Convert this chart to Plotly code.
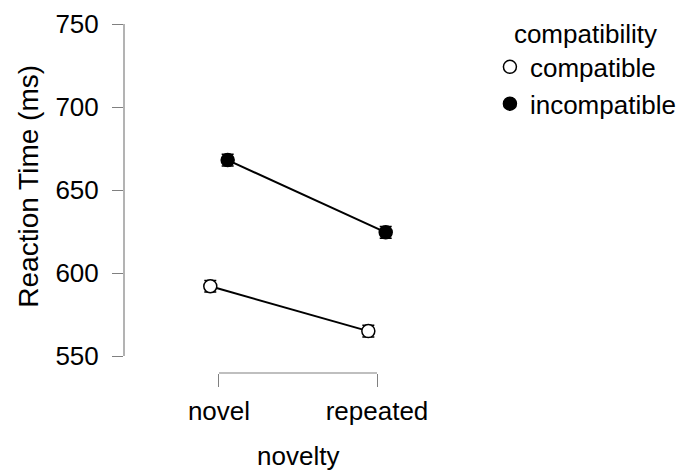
import plotly.graph_objects as go

novelty = ["novel", "repeated"]
groups = ["compatible", "incompatible"]
rt_compatible = [592, 565]
rt_incompatible = [668, 624.5]
se_compatible = [3.5, 3.5]
se_incompatible = [3.5, 3.5]
y_ticks = [550, 600, 650, 700, 750]

FONT = "Liberation Sans, Arial, sans-serif"
FS = 26
xpos = [0, 1]
dodge = 0.055

fig = go.Figure()
series = [
    ("compatible", rt_compatible, se_compatible, "white", -dodge),
    ("incompatible", rt_incompatible, se_incompatible, "black", dodge),
]
for name, vals, se, fill, d in series:
    xs = [p + d for p in xpos]
    fig.add_trace(go.Scatter(
        x=xs, y=vals, mode="lines", showlegend=False, hoverinfo="skip",
        line=dict(color="black", width=2),
    ))
for name, vals, se, fill, d in series:
    xs = [p + d for p in xpos]
    fig.add_trace(go.Scatter(
        x=xs, y=vals, name=name, mode="markers",
        marker=dict(size=13, color=fill, line=dict(color="black", width=1.5)),
        error_y=dict(type="data", array=se, color="black", thickness=1.5, width=6),
    ))

fig.add_shape(type="line", xref="paper", yref="y", x0=0, x1=0, y0=550, y1=750,
              line=dict(color="#808080", width=1.2))
fig.add_shape(type="line", xref="x", yref="paper", x0=0, x1=1, y0=0, y1=0,
              line=dict(color="#808080", width=1.2))

fig.add_annotation(text="Reaction Time (ms)", xref="paper", yref="y", x=0, y=652,
                   xshift=-95, xanchor="center", yanchor="middle",
                   textangle=-90, showarrow=False,
                   font=dict(size=28, color="black", family=FONT))
fig.add_annotation(text="novelty", xref="x", yref="paper", x=0.5, y=0,
                   yshift=-83, xanchor="center", yanchor="middle", showarrow=False,
                   font=dict(size=FS, color="black", family=FONT))

fig.update_layout(
    width=679, height=470, autosize=False,
    margin=dict(l=124, r=207, t=20, b=97, autoexpand=False),
    paper_bgcolor="white", plot_bgcolor="white",
    font=dict(family=FONT, size=FS, color="black"),
    xaxis=dict(range=[-0.601, 1.601], tickvals=xpos, ticktext=novelty,
               showgrid=False, zeroline=False, showline=False, automargin=False,
               ticks="outside", ticklen=13, tickcolor="#808080", tickwidth=1.2,
               ticklabelstandoff=2,
               tickfont=dict(size=FS, color="black")),
    yaxis=dict(range=[539.76, 752.41], tickvals=y_ticks,
               showgrid=False, zeroline=False, showline=False, automargin=False,
               ticks="outside", ticklen=11, tickcolor="#808080", tickwidth=1.2,
               ticklabelstandoff=8,
               tickfont=dict(size=FS, color="black")),
    legend=dict(x=1.0515, y=1.0293, xanchor="left", yanchor="top",
                title=dict(text="compatibility", side="top center",
                           font=dict(size=FS, color="black")),
                font=dict(size=FS, color="black"), itemwidth=30),
    showlegend=True,
)
fig.write_html("out.html", config={"displayModeBar": False},
               post_script="document.body.style.margin='0';document.body.style.overflow='hidden';")
